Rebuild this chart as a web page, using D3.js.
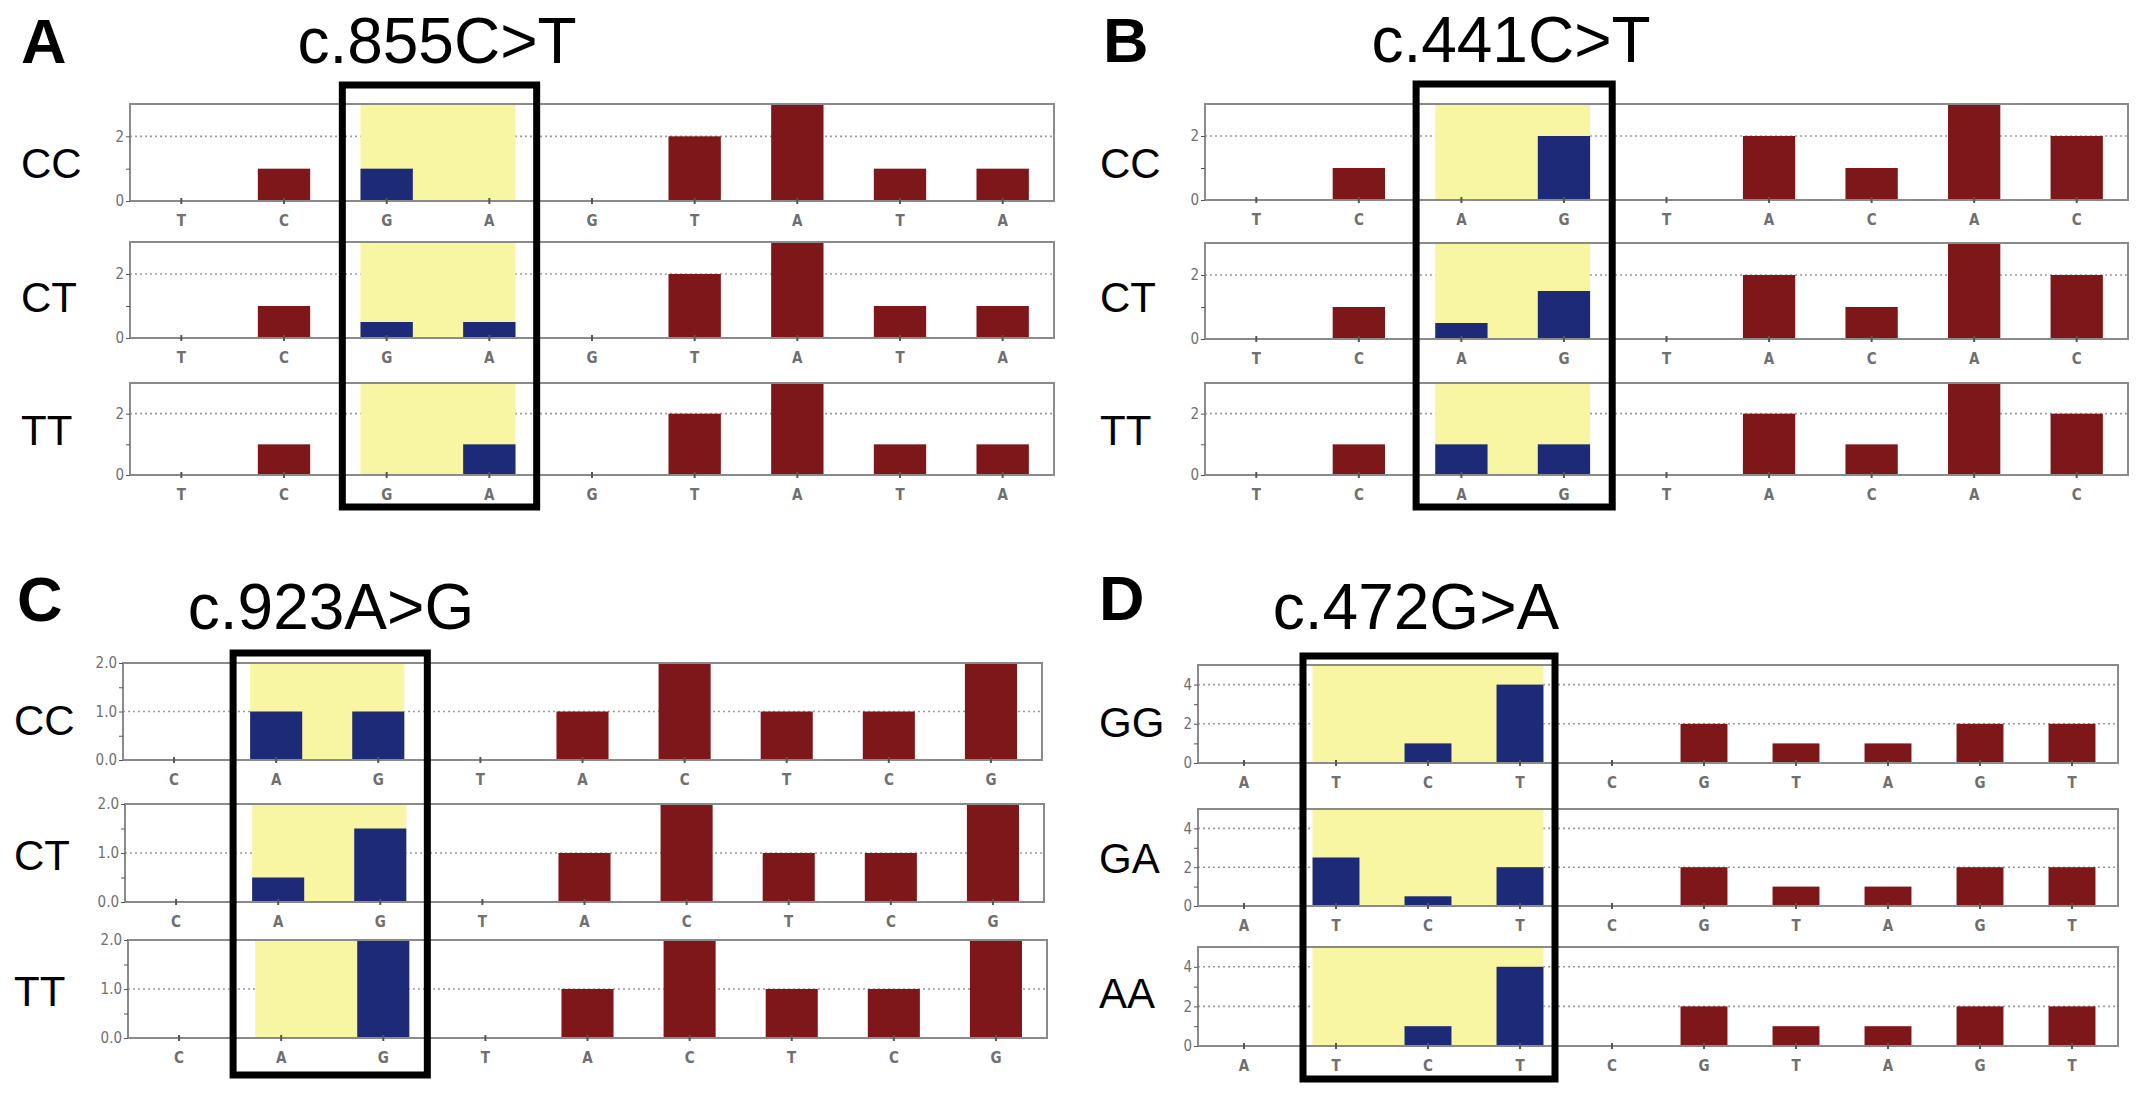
<!DOCTYPE html>
<html>
<head>
<meta charset="utf-8">
<script src="https://cdn.jsdelivr.net/npm/d3@7"></script>
<style>
  body { margin: 0; background: #fff; }
  svg { display: block; }
</style>
</head>
<body>
<svg id="fig"></svg>
<script>
'use strict';

// ---- data ----
const panelLetters = ['A', 'B', 'C', 'D'];
const mutationTitles = ['c.855C>T', 'c.441C>T', 'c.923A>G', 'c.472G>A'];

const basesA = ['T', 'C', 'G', 'A', 'G', 'T', 'A', 'T', 'A'];
const genotypesA = ['CC', 'CT', 'TT'];
const valuesA = [
  [0, 1, 1, 0, 0, 2, 3, 1, 1],
  [0, 1, 0.5, 0.5, 0, 2, 3, 1, 1],
  [0, 1, 0, 1, 0, 2, 3, 1, 1]
];
const variantA = [2, 3];

const basesB = ['T', 'C', 'A', 'G', 'T', 'A', 'C', 'A', 'C'];
const genotypesB = ['CC', 'CT', 'TT'];
const valuesB = [
  [0, 1, 0, 2, 0, 2, 1, 3, 2],
  [0, 1, 0.5, 1.5, 0, 2, 1, 3, 2],
  [0, 1, 1, 1, 0, 2, 1, 3, 2]
];
const variantB = [2, 3];

const basesC = ['C', 'A', 'G', 'T', 'A', 'C', 'T', 'C', 'G'];
const genotypesC = ['CC', 'CT', 'TT'];
const valuesC = [
  [0, 1, 1, 0, 1, 2, 1, 1, 2],
  [0, 0.5, 1.5, 0, 1, 2, 1, 1, 2],
  [0, 0, 2, 0, 1, 2, 1, 1, 2]
];
const variantC = [1, 2];

const basesD = ['A', 'T', 'C', 'T', 'C', 'G', 'T', 'A', 'G', 'T'];
const genotypesD = ['GG', 'GA', 'AA'];
const valuesD = [
  [0, 0, 1, 4, 0, 2, 1, 1, 2, 2],
  [0, 2.5, 0.5, 2, 0, 2, 1, 1, 2, 2],
  [0, 0, 1, 4, 0, 2, 1, 1, 2, 2]
];
const variantD = [1, 2, 3];

// y axes: domain max, labelled ticks, unlabelled minor ticks
const yMaxes = [3, 3, 2, 5];
const yMajorTicks = [[0, 2], [0, 2], [0, 1, 2], [0, 2, 4]];
const yMinorTicks = [[1], [1], [0.5, 1.5], [1, 3]];
const yTickFormats = ['d', 'd', '.1f', 'd'];

// ---- layout ----
const W = 2150, H = 1096;
const RED = '#7e1719', BLUE = '#1c2a78', YELLOW = '#f8f5a3';
const FRAME = '#8a8a8a', TICKTXT = '#6f6f6f';
const FONT = "'Liberation Sans', Arial, sans-serif";
const TICKFONT = "'Liberation Sans Narrow', 'DejaVu Sans Condensed', sans-serif";

// rows: [top, baseline, x shift]
const layouts = [
  { left: 130, right: 1054, rows: [[104, 201, 0], [242, 338, 0], [383, 475, 0]],
    letterX: 21, letterY: 63, titleX: 437, titleY: 63,
    rowX: 21, rowY: [163, 297, 430], boxY: [85, 507], boxInset: [7, 4] },
  { left: 1205, right: 2128, rows: [[104, 200, 0], [243, 339, 0], [383, 475, 0]],
    letterX: 1103, letterY: 62, titleX: 1511, titleY: 62,
    rowX: 1100, rowY: [163, 297, 430], boxY: [84, 507], boxInset: [6, 3] },
  { left: 123, right: 1042, rows: [[663, 760, 0], [804, 902, 2], [940, 1038, 5]],
    letterX: 17, letterY: 621, titleX: 331, titleY: 629,
    rowX: 14, rowY: [720, 855, 991], boxY: [653, 1075], boxInset: [8, 2] },
  { left: 1198, right: 2118, rows: [[665, 763, 0], [809, 906, 0], [947, 1046, 0]],
    letterX: 1099, letterY: 620, titleX: 1416, titleY: 629,
    rowX: 1099, rowY: [722, 858, 993], boxY: [656, 1079], boxInset: [13, 11] }
];

const panelBases = [basesA, basesB, basesC, basesD];
const panelGenotypes = [genotypesA, genotypesB, genotypesC, genotypesD];
const panelValues = [valuesA, valuesB, valuesC, valuesD];
const panelVariants = [variantA, variantB, variantC, variantD];

const svg = d3.select('#fig').attr('width', W).attr('height', H);

/**
 * draw one genotype row (index keyed band scale, bases as tick text)
 */
function drawRow(g, x, y, values, p) {
  const variant = panelVariants[p];
  const barW = x.step() * 0.51;
  const x0 = x.range()[0], x1 = x.range()[1];
  const yTop = y.range()[1], yBase = y.range()[0];
  const cx = (i) => x(i) + x.bandwidth() / 2;

  // dotted grid at labelled ticks
  g.selectAll('line.grid')
      .data(yMajorTicks[p].filter((t) => t > 0 && t < yMaxes[p]))
      .enter().append('line')
      .attr('class', 'grid')
      .attr('x1', x0).attr('x2', x1)
      .attr('y1', (d) => y(d)).attr('y2', (d) => y(d))
      .attr('stroke', '#9a9a9a')
      .attr('stroke-width', 1.6)
      .attr('stroke-dasharray', '2,3');

  // yellow band behind the variant bases
  const first = variant[0], last = variant[variant.length - 1];
  g.append('rect')
      .attr('x', cx(first) - barW / 2)
      .attr('y', yTop + 1)
      .attr('width', cx(last) - cx(first) + barW)
      .attr('height', yBase - yTop - 1)
      .attr('fill', YELLOW);

  g.selectAll('rect.bar')
      .data(values)
      .enter().append('rect')
      .attr('class', 'bar')
      .attr('x', (d, i) => cx(i) - barW / 2)
      .attr('y', (d) => y(d))
      .attr('width', barW)
      .attr('height', (d) => yBase - y(d))
      .attr('fill', (d, i) => variant.includes(i) ? BLUE : RED);

  // frame
  g.append('rect')
      .attr('x', x0).attr('y', yTop)
      .attr('width', x1 - x0).attr('height', yBase - yTop)
      .attr('fill', 'none')
      .attr('stroke', FRAME)
      .attr('stroke-width', 2);

  const yAxis = g.append('g')
      .attr('transform', 'translate(' + x0 + ',0)')
      .call(d3.axisLeft(y).tickValues(yMajorTicks[p]).tickSize(4).tickPadding(2)
          .tickFormat(d3.format(yTickFormats[p])));
  yAxis.select('.domain').remove();
  yAxis.selectAll('line').attr('stroke', '#555');
  yAxis.selectAll('text')
      .attr('fill', TICKTXT)
      .style('font-family', TICKFONT)
      .style('font-size', '15px');
  g.append('g')
      .attr('transform', 'translate(' + x0 + ',0)')
      .call(d3.axisLeft(y).tickValues(yMinorTicks[p]).tickSize(4).tickFormat(''))
      .call((a) => a.select('.domain').remove())
      .call((a) => a.selectAll('line').attr('stroke', '#555'));

  const xAxis = g.append('g')
      .attr('transform', 'translate(0,' + yBase + ')')
      .call(d3.axisBottom(x).tickSize(4).tickPadding(10)
          .tickFormat((i) => panelBases[p][i]));
  xAxis.select('.domain').remove();
  xAxis.selectAll('line')
      .attr('y1', -3).attr('y2', 3)
      .attr('stroke', '#555')
      .attr('stroke-width', 2);
  xAxis.selectAll('text')
      .attr('fill', TICKTXT)
      .style('font-family', TICKFONT)
      .style('font-size', '15px')
      .style('font-weight', 'bold');
}

/**
 * draw a whole lettered panel
 */
function drawPanel(p) {
  const L = layouts[p];
  const g = svg.append('g').attr('class', 'panel-' + panelLetters[p]);
  const n = panelBases[p].length;

  g.append('text')
      .attr('x', L.letterX).attr('y', L.letterY)
      .style('font-family', FONT)
      .style('font-weight', 'bold')
      .style('font-size', '63px')
      .text(panelLetters[p]);
  g.append('text')
      .attr('x', L.titleX).attr('y', L.titleY)
      .attr('text-anchor', 'middle')
      .style('font-family', FONT)
      .style('font-size', '64px')
      .text(mutationTitles[p]);

  panelValues[p].forEach((vals, r) => {
    const [top, base, shift] = L.rows[r];
    const x = d3.scaleBand()
        .domain(d3.range(n))
        .range([L.left + shift, L.right + shift]);
    const y = d3.scaleLinear().domain([0, yMaxes[p]]).range([base, top]);
    drawRow(g.append('g'), x, y, vals, p);
    g.append('text')
        .attr('x', L.rowX).attr('y', L.rowY[r] + 15)
        .style('font-family', FONT)
        .style('font-size', '42px')
        .text(panelGenotypes[p][r]);
  });

  // black box round the variant positions
  const xb = d3.scaleBand().domain(d3.range(n)).range([L.left, L.right]);
  const v = panelVariants[p];
  const bx0 = xb(v[0]) + L.boxInset[0];
  const bx1 = xb(v[v.length - 1]) + xb.bandwidth() - L.boxInset[1];
  g.append('rect')
      .attr('x', bx0).attr('y', L.boxY[0])
      .attr('width', bx1 - bx0).attr('height', L.boxY[1] - L.boxY[0])
      .attr('fill', 'none')
      .attr('stroke', '#000')
      .attr('stroke-width', 7);
}

d3.range(4).forEach(drawPanel);
</script>
</body>
</html>
